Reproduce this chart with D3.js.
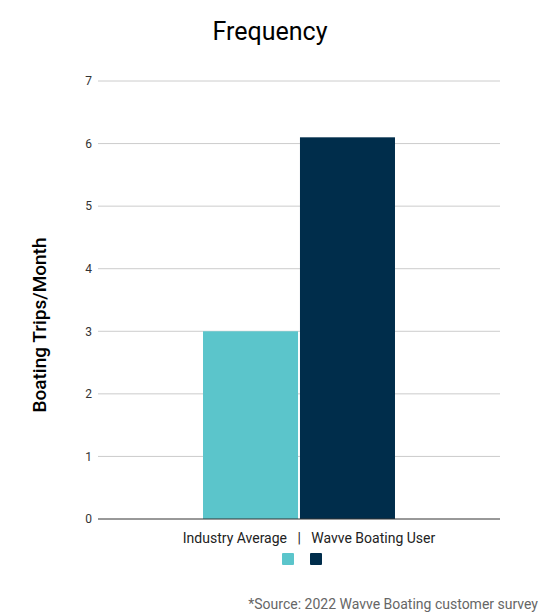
<!DOCTYPE html>
<html>
<head>
<meta charset="utf-8">
<script src="https://cdn.jsdelivr.net/npm/d3@7"></script>
<style>
  body { margin: 0; background: #fff; }
  svg { font-family: Roboto, sans-serif; }
</style>
</head>
<body>
<svg id="chart"></svg>
<script>
const categories = ["Industry Average   |   Wavve Boating User"];
const seriesNames = ["Industry Average", "Wavve Boating User"];
const seriesValues = [3.0, 6.1];
const seriesColors = ["#5bc5cb", "#002d4b"];
const yTicks = [0, 1, 2, 3, 4, 5, 6, 7];

const width = 546;
const height = 614;
const margin = { top: 81, right: 46, bottom: 95, left: 98 };
const innerW = width - margin.left - margin.right;
const innerH = height - margin.top - margin.bottom;

const svg = d3.select("#chart")
  .attr("width", width)
  .attr("height", height);

svg.append("text")
  .attr("x", 270)
  .attr("y", 40)
  .attr("text-anchor", "middle")
  .style("font-size", "25px")
  .style("fill", "#000")
  .text("Frequency");

const chart = svg.append("g")
  .attr("transform", `translate(${margin.left}, ${margin.top})`);

const y = d3.scaleLinear()
  .domain([0, 7])
  .range([innerH, 0]);

const x0 = d3.scaleBand()
  .domain(categories)
  .range([0, innerW])
  .paddingInner(0)
  .paddingOuter(0.547);

const x1 = d3.scaleBand()
  .domain(seriesNames)
  .range([0, x0.bandwidth()])
  .paddingInner(0.02);

// gridlines
chart.append("g")
  .selectAll("line")
  .data(yTicks.filter(d => d > 0))
  .enter()
  .append("line")
  .attr("x1", 0)
  .attr("x2", innerW)
  .attr("y1", d => y(d))
  .attr("y2", d => y(d))
  .attr("stroke", "#cccccc")
  .attr("stroke-width", 1);

// y axis labels
const yAxis = chart.append("g")
  .call(d3.axisLeft(y).tickValues(yTicks).tickFormat(d3.format("d")).tickSize(0).tickPadding(6));
yAxis.select(".domain").remove();
yAxis.selectAll("text")
  .style("font-family", "Roboto, sans-serif")
  .style("font-size", "12px")
  .style("fill", "#333");

// bars
chart.append("g")
  .selectAll("rect")
  .data(seriesValues.map((v, i) => ({ name: seriesNames[i], value: v, color: seriesColors[i] })))
  .enter()
  .append("rect")
  .attr("x", d => x0(categories[0]) + x1(d.name))
  .attr("y", d => y(d.value))
  .attr("width", x1.bandwidth())
  .attr("height", d => innerH - y(d.value))
  .attr("fill", d => d.color);

// baseline
chart.append("line")
  .attr("x1", 0)
  .attr("x2", innerW)
  .attr("y1", y(0))
  .attr("y2", y(0))
  .attr("stroke", "#333")
  .attr("stroke-width", 1);

// category label
const xAxis = chart.append("g")
  .attr("transform", `translate(0, ${innerH})`)
  .call(d3.axisBottom(x0).tickSize(0).tickPadding(14));
xAxis.select(".domain").remove();
xAxis.selectAll("text")
  .attr("transform", "translate(10, 0)")
  .attr("xml:space", "preserve")
  .style("white-space", "pre")
  .style("font-family", "Roboto, sans-serif")
  .style("font-size", "14px")
  .style("fill", "#222");

// legend swatches
const legendX = d3.scalePoint()
  .domain(seriesNames)
  .range([282, 310]);
svg.append("g")
  .selectAll("rect")
  .data(seriesNames)
  .enter()
  .append("rect")
  .attr("x", d => legendX(d))
  .attr("y", 553)
  .attr("width", 12)
  .attr("height", 12)
  .attr("rx", 1)
  .attr("fill", (d, i) => seriesColors[i]);

// y axis title
svg.append("text")
  .attr("transform", "translate(46, 325) rotate(-90)")
  .attr("text-anchor", "middle")
  .style("font-size", "19px")
  .style("font-weight", "500")
  .style("fill", "#000")
  .text("Boating Trips/Month");

// source note
svg.append("text")
  .attr("x", 538)
  .attr("y", 609)
  .attr("text-anchor", "end")
  .style("font-size", "14px")
  .style("fill", "#666")
  .text("*Source: 2022 Wavve Boating customer survey");
</script>
</body>
</html>
